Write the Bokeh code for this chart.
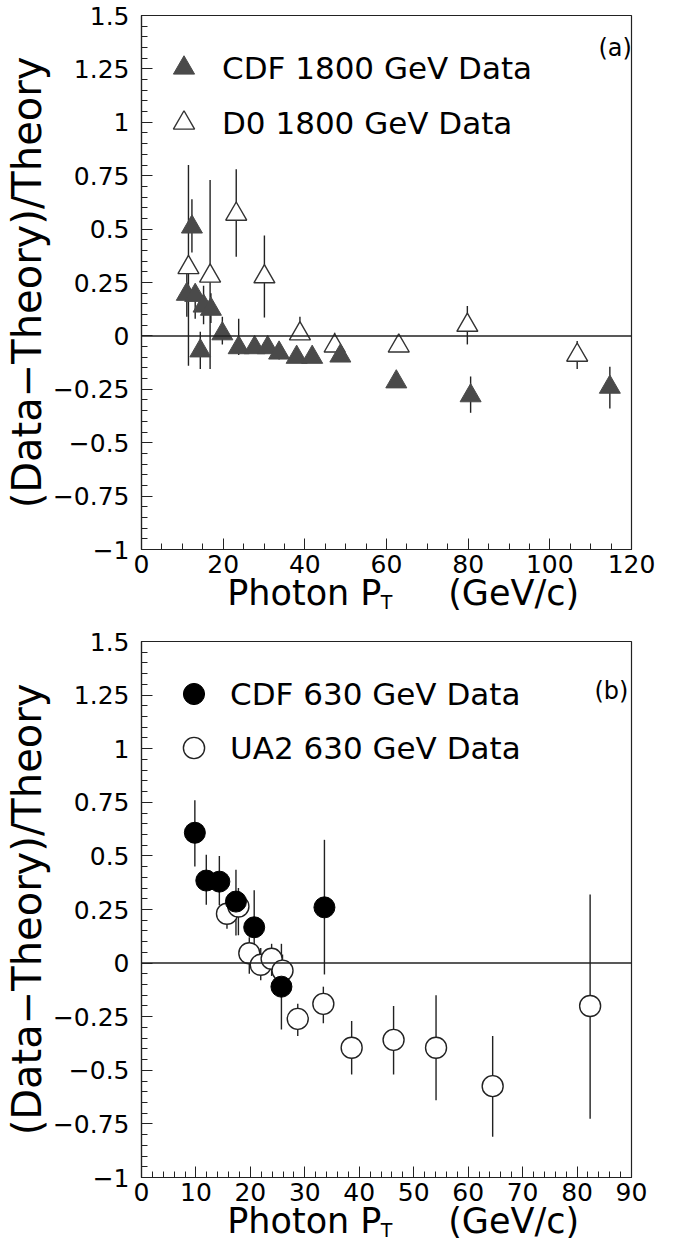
import numpy as np
from bokeh.plotting import figure
from bokeh.layouts import column
from bokeh.models import (ColumnDataSource, FixedTicker, Span, Legend, LegendItem,
                          Label, Range1d, LinearAxis)
from bokeh.embed import file_html
from bokeh.resources import INLINE

FONT = "DejaVu Sans"

# ---------------- panel (a): 1800 GeV ----------------
cdf1800_x  = [11.1, 12.35, 13.15, 14.4, 15.2, 17.0, 19.8, 23.8, 27.7, 30.9, 33.7, 38.0, 41.8, 48.7, 62.4, 80.6, 114.7]
cdf1800_y  = [0.195, 0.51, 0.19, -0.07, 0.14, 0.125, 0.01, -0.055, -0.055, -0.055, -0.08, -0.10, -0.10, -0.094, -0.215, -0.28, -0.24]
cdf1800_lo = [0.09, 0.39, 0.08, -0.155, 0.055, 0.06, -0.04, -0.09, -0.08, -0.08, -0.11, -0.12, -0.12, -0.114, -0.235, -0.36, -0.34]
cdf1800_hi = [0.30, 0.64, 0.235, 0.02, 0.235, 0.20, 0.09, 0.08, -0.03, -0.03, -0.05, -0.08, -0.08, -0.074, -0.195, -0.19, -0.145]

d0_x  = [11.5, 16.8, 23.2, 30.1, 38.8, 47.3, 63.0, 79.8, 106.7]
d0_y  = [0.32, 0.28, 0.57, 0.277, 0.01, -0.047, -0.047, 0.05, -0.09]
d0_lo = [-0.14, -0.155, 0.37, 0.086, -0.01, -0.07, -0.067, -0.04, -0.155]
d0_hi = [0.80, 0.73, 0.78, 0.47, 0.09, 0.015, -0.027, 0.14, -0.024]

# ---------------- panel (b): 630 GeV ----------------
cdf630_x  = [9.8, 11.9, 14.3, 17.35, 20.7, 25.7, 33.6]
cdf630_y  = [0.608, 0.385, 0.38, 0.287, 0.167, -0.11, 0.26]
cdf630_lo = [0.45, 0.272, 0.27, 0.129, 0.03, -0.31, -0.053]
cdf630_hi = [0.76, 0.505, 0.50, 0.435, 0.34, 0.09, 0.575]

ua2_x  = [15.7, 17.8, 19.8, 21.9, 23.9, 25.9, 28.7, 33.4, 38.6, 46.3, 54.1, 64.5, 82.4]
ua2_y  = [0.23, 0.264, 0.046, -0.008, 0.02, -0.035, -0.26, -0.19, -0.395, -0.358, -0.395, -0.574, -0.20]
ua2_lo = [0.16, 0.13, -0.05, -0.08, -0.06, -0.11, -0.34, -0.28, -0.52, -0.52, -0.64, -0.81, -0.726]
ua2_hi = [0.31, 0.35, 0.12, 0.07, 0.09, 0.04, -0.19, -0.11, -0.27, -0.20, -0.15, -0.34, 0.32]

# ---------------- axes ----------------
y_ticks = [-1, -0.75, -0.5, -0.25, 0, 0.25, 0.5, 0.75, 1, 1.25, 1.5]
y_tick_labels = ["\u22121", "\u22120.75", "\u22120.5", "\u22120.25", "0", "0.25", "0.5", "0.75", "1", "1.25", "1.5"]
xa_ticks = [0, 20, 40, 60, 80, 100, 120]
xb_ticks = [0, 10, 20, 30, 40, 50, 60, 70, 80, 90]
y_title = "(Data\u2212Theory)/Theory"
NB = "\u00a0"
x_title = NB * 3 + "Photon P" + NB * 6 + "(GeV/c)"
x_title_sub = "T"


def make_panel(height, borders, x_end, x_ticks, x_minor_step, tag, tag_pos, sub_standoff, title_standoff):
    left, right, top, bottom = borders
    p = figure(width=683, height=height, output_backend="svg", toolbar_location=None,
               x_range=Range1d(0, x_end), y_range=Range1d(-1, 1.5),
               min_border_left=left, min_border_right=right,
               min_border_top=top, min_border_bottom=bottom)
    p.xgrid.visible = False
    p.ygrid.visible = False
    p.outline_line_color = "#222222"
    p.outline_line_width = 1.2
    p.background_fill_color = "white"
    p.border_fill_color = "white"

    p.xaxis.ticker = FixedTicker(ticks=x_ticks,
                                 minor_ticks=list(np.arange(0, x_end + 0.001, x_minor_step)))
    p.yaxis.ticker = FixedTicker(ticks=y_ticks,
                                 minor_ticks=list(np.round(np.arange(-1, 1.5001, 0.05), 2)))
    p.yaxis.major_label_overrides = {t: s for t, s in zip(y_ticks, y_tick_labels)}
    for ax in (p.xaxis, p.yaxis):
        ax.major_tick_in = 11
        ax.major_tick_out = 0
        ax.minor_tick_in = 6
        ax.minor_tick_out = 0
        ax.axis_line_color = "#222222"
        ax.axis_line_width = 1.2
        ax.major_tick_line_color = "#222222"
        ax.minor_tick_line_color = "#222222"
        ax.major_label_text_font = FONT
        ax.major_label_text_color = "black"
        ax.axis_label_text_font = FONT
        ax.axis_label_text_font_style = "normal"
        ax.axis_label_text_color = "black"
    p.xaxis.major_label_text_font_size = "25px"
    p.xaxis.major_label_standoff = 5
    p.yaxis.major_label_text_font_size = "25px"
    p.yaxis.major_label_standoff = 12
    p.yaxis.axis_label = y_title
    p.yaxis.axis_label_text_font_size = "40px"
    p.yaxis.axis_label_standoff = 0

    # subscript "T" of the x title sits under the main axis labels
    p.xaxis.axis_label = x_title_sub
    p.xaxis.axis_label_text_font_size = "19px"
    p.xaxis.axis_label_standoff = sub_standoff

    # the main x title is carried by a bare extra axis, pulled up next to the subscript
    title_axis = LinearAxis(ticker=FixedTicker(ticks=[]), axis_label=x_title,
                            axis_label_text_font=FONT, axis_label_text_font_size="35px",
                            axis_label_text_font_style="normal", axis_label_text_color="black",
                            axis_label_standoff=title_standoff, major_label_standoff=0,
                            major_tick_out=0, major_tick_in=0, minor_tick_out=0, minor_tick_in=0,
                            axis_line_color=None, major_tick_line_color=None,
                            minor_tick_line_color=None)
    p.add_layout(title_axis, "below")

    p.add_layout(Span(location=0, dimension="width", line_color="#222222", line_width=1.5))

    p.add_layout(Label(x=tag_pos[0], y=tag_pos[1], x_units="screen", y_units="screen", text=tag,
                       text_font=FONT, text_font_size="24px", text_baseline="alphabetic",
                       text_color="black"))
    return p


# ---- panel (a)
pa = make_panel(626, (136, 52, 15, 77), 120, xa_ticks, 5, "(a)", (457, 502), 15, -43)
src_cdf1800 = ColumnDataSource(dict(x=cdf1800_x, y=cdf1800_y, lo=cdf1800_lo, hi=cdf1800_hi))
src_d0 = ColumnDataSource(dict(x=d0_x, y=d0_y, lo=d0_lo, hi=d0_hi))
pa.segment(x0="x", y0="lo", x1="x", y1="hi", source=src_cdf1800, line_color="#222222", line_width=1.4)
pa.segment(x0="x", y0="lo", x1="x", y1="hi", source=src_d0, line_color="#222222", line_width=1.4)
r_d0 = pa.scatter("x", "y", source=src_d0, marker="triangle", size=21,
                  fill_color="white", line_color="#333333", line_width=1.4)
r_cdf1800 = pa.scatter("x", "y", source=src_cdf1800, marker="triangle", size=21,
                       fill_color="#4a4a4a", line_color="#4a4a4a", line_width=1)
leg_a = Legend(items=[LegendItem(label="CDF 1800 GeV Data", renderers=[r_cdf1800]),
                      LegendItem(label="D0 1800 GeV Data", renderers=[r_d0])],
               location=(16, 400), glyph_width=53, glyph_height=53, spacing=2, padding=0,
               margin=0, label_standoff=12, label_text_font=FONT, label_text_font_size="31px",
               label_text_color="black", border_line_alpha=0, background_fill_alpha=0)
pa.add_layout(leg_a)

# ---- panel (b)
pb = make_panel(619, (141, 48, 15, 68), 90, xb_ticks, 2, "(b)", (453, 487), 15, -43)
src_cdf630 = ColumnDataSource(dict(x=cdf630_x, y=cdf630_y, lo=cdf630_lo, hi=cdf630_hi))
src_ua2 = ColumnDataSource(dict(x=ua2_x, y=ua2_y, lo=ua2_lo, hi=ua2_hi))
pb.segment(x0="x", y0="lo", x1="x", y1="hi", source=src_ua2, line_color="#222222", line_width=1.4)
pb.segment(x0="x", y0="lo", x1="x", y1="hi", source=src_cdf630, line_color="#222222", line_width=1.4)
r_ua2 = pb.scatter("x", "y", source=src_ua2, marker="circle", size=21,
                   fill_color="white", line_color="#222222", line_width=1.4)
r_cdf630 = pb.scatter("x", "y", source=src_cdf630, marker="circle", size=21,
                      fill_color="black", line_color="black", line_width=1)
leg_b = Legend(items=[LegendItem(label="CDF 630 GeV Data", renderers=[r_cdf630]),
                      LegendItem(label="UA2 630 GeV Data", renderers=[r_ua2])],
               location=(26, 403), glyph_width=53, glyph_height=53, spacing=1, padding=0,
               margin=0, label_standoff=10, label_text_font=FONT, label_text_font_size="31px",
               label_text_color="black", border_line_alpha=0, background_fill_alpha=0)
pb.add_layout(leg_b)

layout = column(pa, pb, spacing=0)
open("out.html", "w").write(file_html(layout, INLINE))
